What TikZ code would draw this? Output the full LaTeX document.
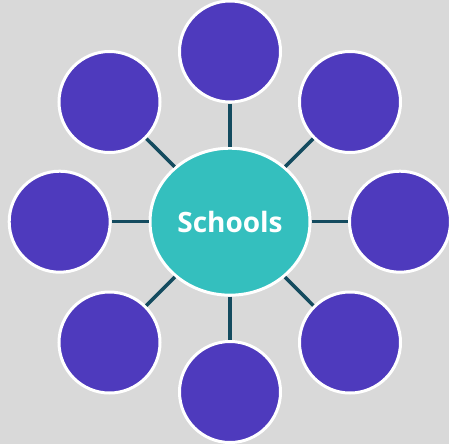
\documentclass[tikz,border=0pt]{standalone}
\usepackage{fontspec}
\setmainfont{Open Sans}
\usetikzlibrary{shapes.geometric}
\definecolor{bgcol}{HTML}{D9D9D9}
\definecolor{purplecol}{HTML}{4E3ABD}
\definecolor{tealcol}{HTML}{34BFBE}
\definecolor{linkcol}{HTML}{144B5F}
\tikzset{
    x=1pt,
    y=-1pt,
    hub/.style = {
        draw=white,
        shape=ellipse,
        fill=tealcol,
        minimum width=160pt,
        minimum height=147pt,
        inner sep=0pt,
        line width=3pt,
        text=white,
        font=\fontsize{28}{32}\selectfont\bfseries
    },
    leaf/.style = {
        draw=white,
        shape=circle,
        fill=purplecol,
        minimum size=101pt,
        inner sep=0pt,
        line width=3pt
    },
    link/.style = {
        draw=linkcol,
        line width=3.5pt
    },
}
\begin{document}
\begin{tikzpicture}
    \useasboundingbox[fill=bgcol] (0,0) rectangle (449,444);
    \node[hub] (schools) at (230,221.7) {Schools};
    \node[leaf] (n) at (230,51.5) {};
    \node[leaf] (ne) at (350,102) {};
    \node[leaf] (e) at (400,221.7) {};
    \node[leaf] (se) at (350,342.5) {};
    \node[leaf] (s) at (230,392) {};
    \node[leaf] (sw) at (109.5,342.5) {};
    \node[leaf] (w) at (59.7,221.7) {};
    \node[leaf] (nw) at (109.5,102) {};

    \path[link] (schools) -- (n);
    \path[link] (schools) -- (ne);
    \path[link] (schools) -- (e);
    \path[link] (schools) -- (se);
    \path[link] (schools) -- (s);
    \path[link] (schools) -- (sw);
    \path[link] (schools) -- (w);
    \path[link] (schools) -- (nw);
\end{tikzpicture}
\end{document}
